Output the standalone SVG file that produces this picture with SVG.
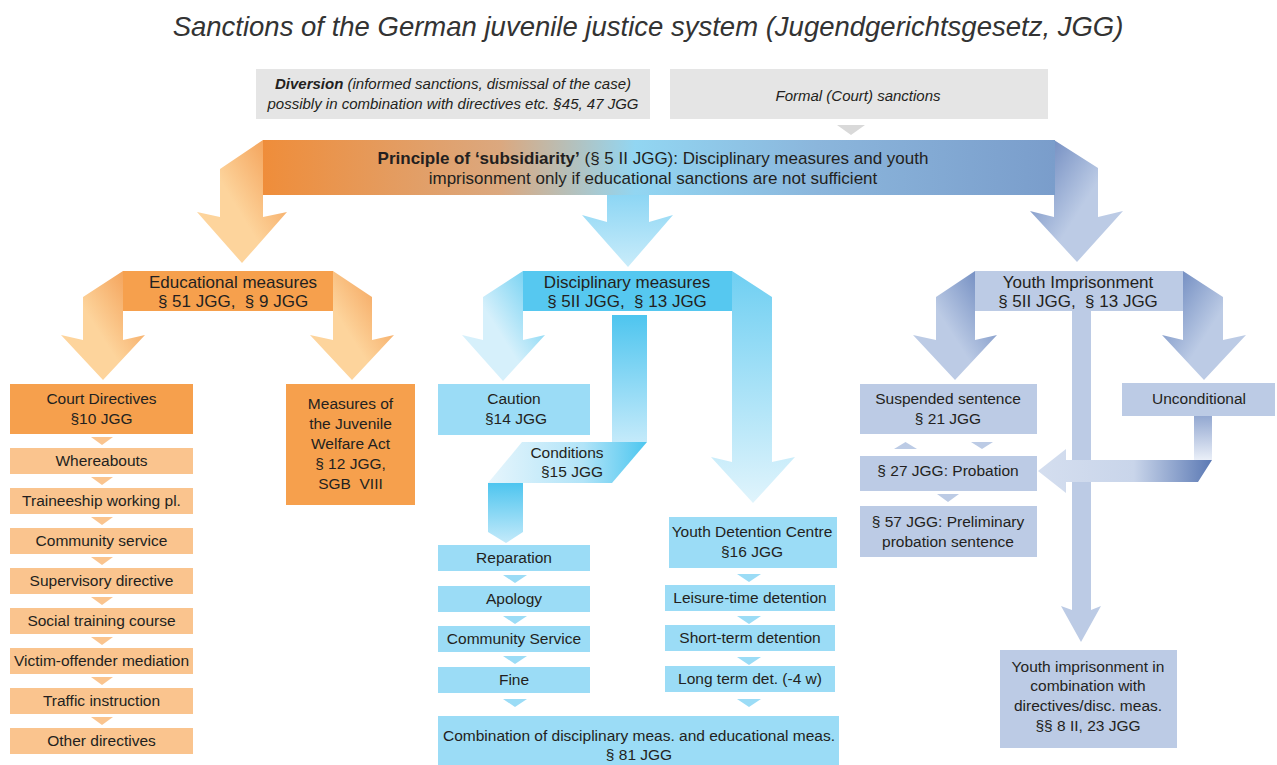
<svg xmlns="http://www.w3.org/2000/svg" width="1277" height="765" viewBox="0 0 1277 765">
<style>
text{font-family:"Liberation Sans",Arial,sans-serif;fill:#231f20;text-anchor:middle}
.t{font-size:27.5px;font-style:italic;fill:#333}
.i{font-size:15px;font-style:italic}
.h{font-size:17px}
.b{font-size:15.5px}
.or{fill:#f6a04d}
.lo{fill:#fac48e}
.bb{fill:#56c8f0}
.lb{fill:#9bdcf6}
.sb{fill:#bccbe5}
.gr{fill:#e5e5e5}
</style>
<defs>
<linearGradient id="band" x1="0" y1="0" x2="1" y2="0">
<stop offset="0" stop-color="#ef8d3a"/>
<stop offset="0.3" stop-color="#dba87f"/>
<stop offset="0.47" stop-color="#92d6f2"/>
<stop offset="0.7" stop-color="#8bb6dc"/>
<stop offset="1" stop-color="#7a9dcb"/>
</linearGradient>
<linearGradient id="og" x1="1" y1="0" x2="0.4" y2="0.5">
<stop offset="0" stop-color="#f19447"/>
<stop offset="1" stop-color="#fdd49c"/>
</linearGradient>
<linearGradient id="bg" x1="1" y1="0" x2="0.4" y2="0.5">
<stop offset="0" stop-color="#5ccaf0"/>
<stop offset="1" stop-color="#d6f0fb"/>
</linearGradient>
<linearGradient id="bgl" x1="0" y1="0" x2="0" y2="1">
<stop offset="0" stop-color="#6fcff2"/>
<stop offset="1" stop-color="#e0f4fc"/>
</linearGradient>
<linearGradient id="bgm" x1="0" y1="0" x2="0" y2="1">
<stop offset="0" stop-color="#8dd6f4"/>
<stop offset="1" stop-color="#c9ecfa"/>
</linearGradient>
<linearGradient id="sg" x1="0" y1="0" x2="0.6" y2="0.5">
<stop offset="0" stop-color="#5f7db8"/>
<stop offset="1" stop-color="#bccbe5"/>
</linearGradient>
<linearGradient id="sgl" x1="1" y1="0" x2="0.4" y2="0.5">
<stop offset="0" stop-color="#5f7db8"/>
<stop offset="1" stop-color="#bccbe5"/>
</linearGradient>
<linearGradient id="cond" x1="0" y1="0" x2="1" y2="0">
<stop offset="0" stop-color="#e6f5fc"/>
<stop offset="0.6" stop-color="#b2e4f8"/>
<stop offset="1" stop-color="#4cc6ef"/>
</linearGradient>
<linearGradient id="vs" x1="0" y1="0" x2="0" y2="1">
<stop offset="0" stop-color="#4ec5ef"/>
<stop offset="1" stop-color="#c4eafa"/>
</linearGradient>
<linearGradient id="uv" x1="0" y1="0" x2="0" y2="1">
<stop offset="0" stop-color="#93a8d1"/>
<stop offset="1" stop-color="#eaeff8"/>
</linearGradient>
<linearGradient id="uh" x1="0" y1="0" x2="1" y2="0">
<stop offset="0" stop-color="#d4deef"/>
<stop offset="0.55" stop-color="#c9d5ea"/>
<stop offset="1" stop-color="#5b79b4"/>
</linearGradient>
</defs>

<text class="t" x="648" y="36">Sanctions of the German juvenile justice system (Jugendgerichtsgesetz, JGG)</text>

<g id="connectors">
<polygon points="837,125 865,125 851,135" fill="#d9d9d9"/>
<polygon points="263,140 220,169 220,217 197,212 242,263 287,212 263,217" fill="url(#og)"/>
<polygon points="607,195 649,195 649,222 673,215 628,267 582,215 607,222" fill="url(#bgm)"/>
<polygon points="1054,140 1098,168 1098,217 1123,211 1077,262 1030,211 1054,217" fill="url(#sg)"/>
<polygon points="123,271 83,297 83,340 61,335 103,380 145,335 123,340" fill="url(#og)"/>
<polygon points="333,271 372,297 372,340 394,335 352,380 310,335 333,340" style="fill:url(#og)"/>
<polygon points="523,271 483,297 483,340 462,335 503,381 545,335 523,340" fill="url(#bg)"/>
<polygon points="732,271 772,297 772,462 795,457 753,503 711,457 732,462" fill="url(#bgl)"/>
<rect x="612" y="315" width="35" height="127" fill="url(#vs)"/>
<polygon points="522,442 647,442 612,483 488,483" fill="url(#cond)"/>
<polygon points="488,483 523,483 523,532 506,543 488,532" fill="url(#vs)"/>
<polygon points="975,271 936,297 936,340 913,335 955,380 997,335 975,340" fill="url(#sgl)"/>
<polygon points="1183,271 1223,297 1223,340 1246,335 1204,380 1162,335 1183,340" fill="url(#sg)"/>
<polygon points="1072,311 1091,311 1091,610 1101,606 1081,642 1061,606 1072,610" class="sb"/>
<rect x="1194" y="416" width="18" height="44" fill="url(#uv)"/>
<polygon points="1212,460 1198,482 1066,482 1066,493 1038,471 1066,449 1066,460" fill="url(#uh)"/>
<g class="lo">
<polygon points="91,437 113,437 102,445"/>
<polygon points="91,477 113,477 102,485"/>
<polygon points="91,517 113,517 102,525"/>
<polygon points="91,557 113,557 102,565"/>
<polygon points="91,597 113,597 102,605"/>
<polygon points="91,637 113,637 102,645"/>
<polygon points="91,677 113,677 102,685"/>
<polygon points="91,717 113,717 102,725"/>
</g>
<g class="lb">
<polygon points="503,575 527,575 515,583"/>
<polygon points="503,616 527,616 515,624"/>
<polygon points="503,656 527,656 515,664"/>
<polygon points="503,699 527,699 515,707"/>
<polygon points="737,574 761,574 749,582"/>
<polygon points="737,616 761,616 749,624"/>
<polygon points="737,657 761,657 749,665"/>
<polygon points="737,699 761,699 749,707"/>
</g>
<g class="sb">
<polygon points="894,449 917,449 905.5,442"/>
<polygon points="971,442 993,442 982,449"/>
<polygon points="937,494 959,494 948,502"/>
</g>
</g>

<g id="diversion"><rect class="gr" x="256" y="69" width="394" height="50"/>
<text class="i" x="453" y="89"><tspan font-weight="bold">Diversion</tspan> (informed sanctions, dismissal of the case)</text>
<text class="i" x="453" y="109">possibly in combination with directives etc. §45, 47 JGG</text></g>
<g id="formal"><rect class="gr" x="670" y="69" width="378" height="50"/>
<text class="i" x="858" y="101">Formal (Court) sanctions</text></g>

<g id="principle"><rect x="263" y="140" width="792" height="55" fill="url(#band)"/>
<text class="h" x="653" y="164"><tspan font-weight="bold">Principle of ‘subsidiarity’</tspan> (§ 5 II JGG): Disciplinary measures and youth</text>
<text class="h" x="653" y="184">imprisonment only if educational sanctions are not sufficient</text></g>

<g id="educational"><rect class="or" x="123" y="271" width="210" height="40"/>
<text class="h" x="233" y="288">Educational measures</text>
<text class="h" x="233" y="307">§ 51 JGG, &#160;§ 9 JGG</text></g>
<g id="disciplinary"><rect class="bb" x="523" y="271" width="209" height="40"/>
<text class="h" x="627" y="288">Disciplinary measures</text>
<text class="h" x="627" y="307">§ 5II JGG, &#160;§ 13 JGG</text></g>
<g id="youth-imprisonment"><rect class="sb" x="975" y="271" width="208" height="40"/>
<text class="h" x="1078" y="288">Youth Imprisonment</text>
<text class="h" x="1078" y="307">§ 5II JGG, &#160;§ 13 JGG</text></g>

<g id="court-directives"><rect class="or" x="10" y="384" width="183" height="50"/>
<text class="b" x="101.5" y="404">Court Directives</text><text class="b" x="101.5" y="424">§10 JGG</text></g>
<g id="whereabouts"><rect class="lo" x="10" y="448" width="183" height="26"/><text class="b" x="101.5" y="466">Whereabouts</text></g>
<g id="traineeship"><rect class="lo" x="10" y="488" width="183" height="26"/><text class="b" x="101.5" y="506">Traineeship working pl.</text></g>
<g id="community"><rect class="lo" x="10" y="528" width="183" height="26"/><text class="b" x="101.5" y="546">Community service</text></g>
<g id="supervisory"><rect class="lo" x="10" y="568" width="183" height="26"/><text class="b" x="101.5" y="586">Supervisory directive</text></g>
<g id="social"><rect class="lo" x="10" y="608" width="183" height="26"/><text class="b" x="101.5" y="626">Social training course</text></g>
<g id="victim"><rect class="lo" x="10" y="648" width="183" height="26"/><text class="b" x="101.5" y="666">Victim-offender mediation</text></g>
<g id="traffic"><rect class="lo" x="10" y="688" width="183" height="26"/><text class="b" x="101.5" y="706">Traffic instruction</text></g>
<g id="other"><rect class="lo" x="10" y="728" width="183" height="26"/><text class="b" x="101.5" y="746">Other directives</text></g>

<g id="welfare"><rect class="or" x="286" y="384" width="129" height="121"/>
<text class="b" x="350.5" y="409">Measures of</text><text class="b" x="350.5" y="429">the Juvenile</text><text class="b" x="350.5" y="449">Welfare Act</text><text class="b" x="350.5" y="469">§ 12 JGG,</text><text class="b" x="350.5" y="489">SGB &#160;VIII</text></g>

<g id="caution"><rect class="lb" x="438" y="384" width="152" height="51"/>
<text class="b" x="514" y="404">Caution</text><text class="b" x="516" y="424">§14 JGG</text></g>
<g id="conditions"><text class="b" x="567" y="458">Conditions</text><text class="b" x="572" y="477">§15 JGG</text></g>
<g id="reparation"><rect class="lb" x="438" y="545" width="152" height="26"/><text class="b" x="514" y="563">Reparation</text></g>
<g id="apology"><rect class="lb" x="438" y="586" width="152" height="26"/><text class="b" x="514" y="604">Apology</text></g>
<g id="community-service"><rect class="lb" x="438" y="626" width="152" height="26"/><text class="b" x="514" y="644">Community Service</text></g>
<g id="fine"><rect class="lb" x="438" y="667" width="152" height="26"/><text class="b" x="514" y="685">Fine</text></g>
<g id="ydc"><rect class="lb" x="669" y="517" width="168" height="51"/>
<text class="b" x="752" y="537">Youth Detention Centre</text><text class="b" x="752" y="557">§16 JGG</text></g>
<g id="leisure"><rect class="lb" x="665" y="585" width="170" height="26"/><text class="b" x="750" y="603">Leisure-time detention</text></g>
<g id="short"><rect class="lb" x="665" y="625" width="170" height="26"/><text class="b" x="750" y="643">Short-term detention</text></g>
<g id="long"><rect class="lb" x="665" y="666" width="170" height="26"/><text class="b" x="750" y="684">Long term det. (-4 w)</text></g>
<g id="combination"><rect class="lb" x="438" y="716" width="401" height="55"/>
<text class="b" x="639" y="741">Combination of disciplinary meas. and educational meas.</text><text class="b" x="639" y="760">§ 81 JGG</text></g>

<g id="suspended"><rect class="sb" x="860" y="384" width="177" height="50"/>
<text class="b" x="948" y="404">Suspended sentence</text><text class="b" x="948" y="424">§ 21 JGG</text></g>
<g id="unconditional"><rect class="sb" x="1122" y="383" width="153" height="33"/><text class="b" x="1199" y="404">Unconditional</text></g>
<g id="probation"><rect class="sb" x="860" y="456" width="177" height="35"/><text class="b" x="948" y="476">§ 27 JGG: Probation</text></g>
<g id="preliminary"><rect class="sb" x="860" y="506" width="177" height="51"/>
<text class="b" x="948" y="527">§ 57 JGG: Preliminary</text><text class="b" x="948" y="547">probation sentence</text></g>
<g id="youth-combination"><rect class="sb" x="1000" y="650" width="177" height="98"/>
<text class="b" x="1088" y="672">Youth imprisonment in</text><text class="b" x="1088" y="691">combination with</text><text class="b" x="1088" y="711">directives/disc. meas.</text><text class="b" x="1088" y="731">§§ 8 II, 23 JGG</text></g>
</svg>
